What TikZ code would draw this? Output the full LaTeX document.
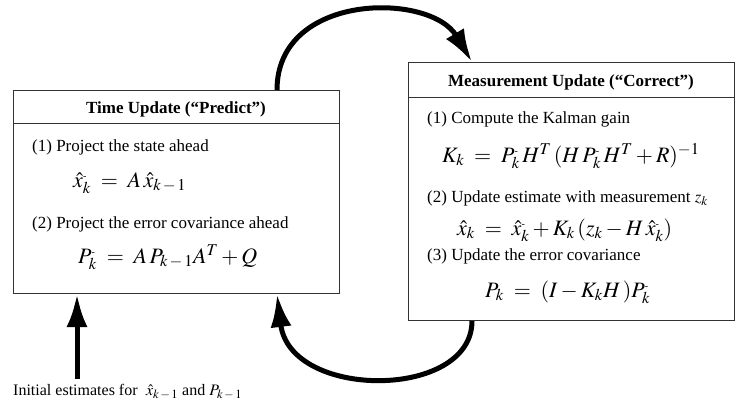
\documentclass[tikz,border=0pt]{standalone}
\usepackage{mathptmx}
\usepackage[no-math]{fontspec}
\setmainfont{Liberation Serif}
\DeclareMathSizes{22}{22}{16.5}{12}
\DeclareMathSizes{17}{17}{13}{10}
\DeclareMathSizes{16}{16}{12.5}{9}
\usetikzlibrary{arrows.meta}
\newcommand{\mns}{^{\mbox{\fontsize{10}{10}\selectfont -}}}
\newcommand{\km}{k\,-\,1}
\tikzset{
  box/.style={draw=black!80, line width=1pt, rectangle, inner sep=0pt, anchor=north west},
  hdr/.style={font=\fontsize{17}{20}\selectfont\bfseries, inner sep=0pt, anchor=base},
  txt/.style={font=\fontsize{17}{20}\selectfont, inner sep=0pt, anchor=base west},
  eqn/.style={font=\fontsize{22}{24}\selectfont, inner sep=0pt, anchor=base west},
  flow/.style={line width=5pt, -{Latex[length=33pt,width=21pt]}},
}
\begin{document}
\begin{tikzpicture}[x=1pt,y=-1pt]
\useasboundingbox (0,0) rectangle (748,405);
% boxes
\node[box, minimum width=326pt, minimum height=203pt] (tu) at (13,90) {};
\draw[draw=black!80, line width=1pt] (13,123) -- (339,123);
\node[box, minimum width=326pt, minimum height=258pt] (mu) at (408,62) {};
\draw[draw=black!80, line width=1pt] (408,97) -- (734,97);
% left box content
\node[hdr] (tuh) at (176,113) {Time Update (“Predict”)};
\node[txt] (t1) at (32,151) {(1) Project the state ahead};
\node[eqn] (e1) at (73,187) {$\hat{x}\mns_k \;=\; A\,\hat{x}_{\km}$};
\node[txt] (t2) at (32,228) {(2) Project the error covariance ahead};
\node[eqn] (e2) at (78,263) {$P\mns_k \;=\; A\,P_{\km}A^T + Q$};
% right box content
\node[hdr] (muh) at (571,86) {Measurement Update (“Correct”)};
\node[txt] (m1) at (427,123) {(1) Compute the Kalman gain};
\node[eqn] (m1e) at (442,162) {$K_k \;=\; P\mns_k\,H^T\,(H\,P\mns_k\,H^T+R)^{-1}$};
\node[txt] (m2) at (427,202) {(2) Update estimate with measurement $z_k$};
\node[eqn] (m2e) at (457,235) {$\hat{x}_k \;=\; \hat{x}\mns_k + K_k\,(z_k - H\,\hat{x}\mns_k)$};
\node[txt] (m3) at (427,260) {(3) Update the error covariance};
\node[eqn] (m3e) at (485,297) {$P_k \;=\; (I-K_kH\,)P\mns_k$};
% initial text
\node[font=\fontsize{16}{19}\selectfont, inner sep=0pt, anchor=base west] (init) at (13,395) {Initial estimates for \;$\hat{x}_{\km}$ and $P_{\km}$};
% connectors
\coordinate (a1) at ([xshift=264pt]tu.north west);
\coordinate (a2) at ([xshift=64pt]mu.north west);
\coordinate (b1) at ([xshift=64pt]mu.south west);
\coordinate (b2) at ([xshift=264pt]tu.south west);
\coordinate (c1) at ([xshift=64pt,yshift=-85pt]tu.south west);
\coordinate (c2) at ([xshift=64pt]tu.south west);
\draw[flow] (a1) .. controls (277,-8) and (430,-8) .. (a2);
\draw[flow] (b1) .. controls (472,400) and (290,400) .. (b2);
\draw[flow] (c1) -- (c2);
\end{tikzpicture}
\end{document}
